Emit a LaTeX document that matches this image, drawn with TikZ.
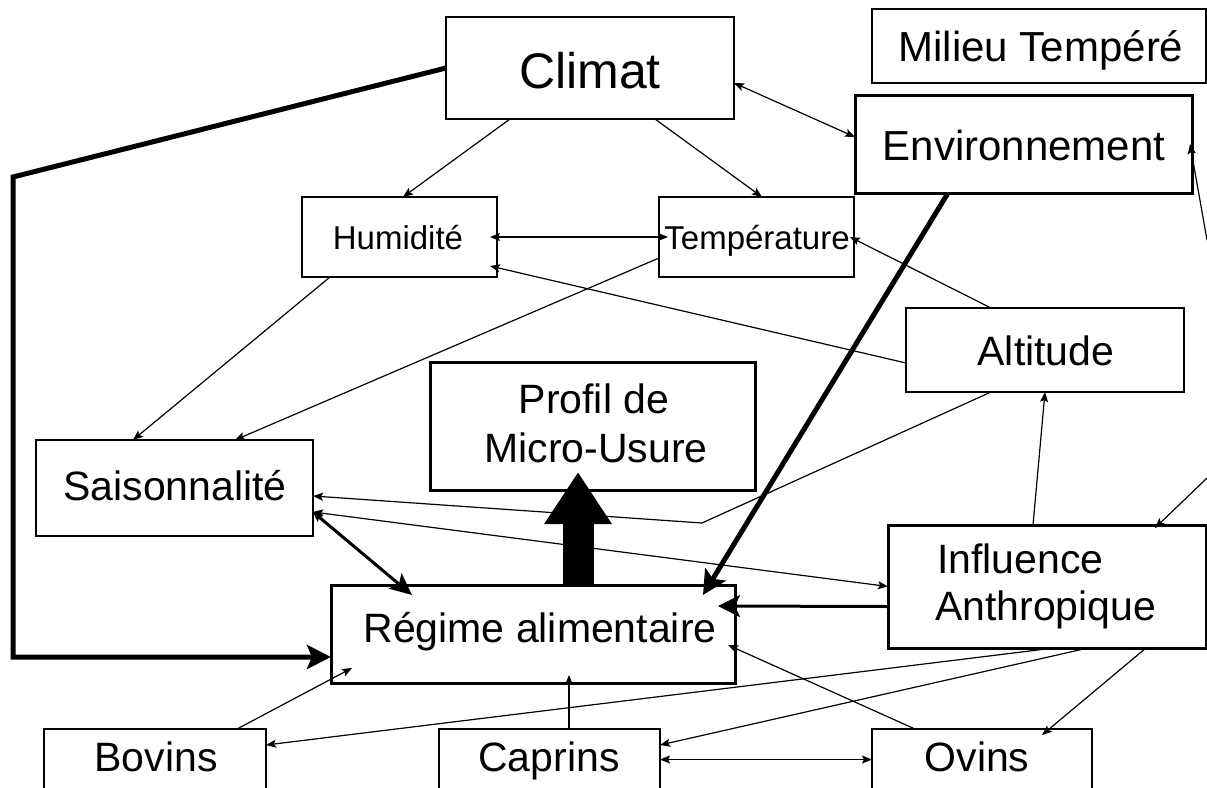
\documentclass[tikz,border=0pt]{standalone}
\usepackage{fontspec}
\setmainfont{Liberation Sans}
\usetikzlibrary{arrows.meta}
\newcommand{\fsz}[1]{\fontsize{#1}{#1}\selectfont}
\begin{document}
\begin{tikzpicture}[x=1pt,y=-1pt,
  box/.style={draw, line width=1.3pt, inner sep=0pt, outer sep=0pt, rectangle},
  thickbox/.style={box, line width=3pt},
  txt/.style={inner sep=0pt, outer sep=0pt, anchor=base},
  big/.style={txt, font=\fsz{41}},
  small/.style={txt, font=\fsz{33}},
  conn/.style={line width=1.2pt, -{Stealth[length=10pt,width=8pt,inset=2pt]}},
  biconn/.style={line width=1.2pt, {Stealth[length=10pt,width=8pt,inset=2pt]}-{Stealth[length=10pt,width=8pt,inset=2pt]}},
  heavy/.style={line width=5pt, -{Stealth[length=24pt,width=24pt,inset=5pt]}},
  medium/.style={line width=3pt, -{Stealth[length=22pt,width=22pt,inset=5pt]}},
]
\useasboundingbox (0,0) rectangle (1207,787);
\fill[white] (0,0) rectangle (1207,787);
\clip (0,0) rectangle (1207,787);

% boxes
\node[box, line width=2pt, minimum width=288pt, minimum height=102pt] (climat) at (590,68) {};
\node[box, minimum width=334pt, minimum height=74pt] (milieu) at (1039,46) {};
\node[thickbox, minimum width=337pt, minimum height=98pt] (env) at (1023.5,144) {};
\node[box, minimum width=195pt, minimum height=80pt] (hum) at (399.5,237) {};
\node[box, minimum width=195pt, minimum height=80pt] (temp) at (756.5,237) {};
\node[box, minimum width=278pt, minimum height=84pt] (alt) at (1045,350) {};
\node[thickbox, minimum width=325pt, minimum height=128pt] (profil) at (592.5,426) {};
\node[box, minimum width=277pt, minimum height=96pt] (sais) at (174.5,488) {};
\node[thickbox, minimum width=404pt, minimum height=98pt] (regime) at (533,634) {};
\node[thickbox, minimum width=318pt, minimum height=123pt] (infl) at (1047,586.5) {};
\node[box, minimum width=222pt, minimum height=61pt] (bovins) at (155,759.5) {};
\node[box, minimum width=221pt, minimum height=61pt] (caprins) at (549.5,759.5) {};
\node[box, minimum width=220pt, minimum height=61pt] (ovins) at (982,759.5) {};

% texts
\node[txt, font=\fsz{50}] (climatT) at (590,88) {Climat};
\node[big, font=\fsz{42}] (milieuT) at (1041,61) {Milieu Tempéré};
\node[big, font=\fsz{42}] (envT) at (1024,160) {Environnement};
\node[small] (humT) at (398,249) {Humidité};
\node[small] (tempT) at (757,249) {Température};
\node[big] (altT) at (1046,365) {Altitude};
\node[big] (profilA) at (594,413) {Profil de};
\node[big] (profilB) at (596,462) {Micro-Usure};
\node[big] (saisT) at (175,500) {Saisonnalité};
\node[big] (regimeT) at (540,642) {Régime alimentaire};
\node[big, anchor=base west] (inflA) at (937,573) {Influence};
\node[big, anchor=base west] (inflB) at (935,620) {Anthropique};
\node[big] (bovinsT) at (156,771) {Bovins};
\node[big] (caprinsT) at (549,771) {Caprins};
\node[big] (ovinsT) at (977,771) {Ovins};

% free ends off the picture
\coordinate (offA) at (1207,240);
\coordinate (offB) at (1207,478);
\coordinate (bendC) at (13,177);
\coordinate (bendA) at (702,523);

% connectors
\draw[heavy] (climat.west) -- (bendC) |- ([yshift=-23pt]regime.west);
\draw[conn] ([xshift=64pt]climat.south west) -- ([xshift=101pt]hum.north west);
\draw[conn] ([xshift=209pt]climat.south west) -- ([xshift=103pt]temp.north west);
\draw[biconn] ([yshift=-15pt]climat.east) -- ([yshift=7pt]env.west);
\draw[biconn] ([xshift=-7pt]hum.east) -- ([xshift=9pt]temp.west);
\draw[conn] ([xshift=85pt]alt.north west) -- ([xshift=-4pt]temp.east);
\draw[conn] ([yshift=-13pt]alt.west) -- ([xshift=-7pt,yshift=11pt]hum.south east);
\draw[conn] ([xshift=28pt]hum.south west) -- ([xshift=97pt]sais.north west);
\draw[conn] ([yshift=-21pt]temp.west) -- ([xshift=199pt]sais.north west);
\draw[heavy] ([xshift=93pt]env.south west) -- ([xshift=-32pt,yshift=-10pt]regime.north east);
\draw[conn] (offA) -- ([xshift=-2pt]env.east);
\draw[conn] (offB) -- ([xshift=-51pt,yshift=-3pt]infl.north east);
\draw[conn] ([xshift=85pt]alt.south west) -- (bendA) -- ([yshift=-8pt]sais.east);
\draw[biconn] ([yshift=-24pt]sais.east) -- (infl.west);
\draw[line width=3pt, {Stealth[length=10pt,width=9pt,inset=2pt]}-{Stealth[length=22pt,width=20pt,inset=5pt]}] ([yshift=-24pt]sais.east) -- ([xshift=81pt,yshift=-10pt]regime.north west);
\draw[medium] ([yshift=-20pt]infl.west) -- ([xshift=-17pt,yshift=28pt]regime.east);
\draw[conn] ([xshift=145pt]infl.north west) -- (alt.south);
\draw[line width=31pt, -{Triangle[length=52pt,width=64pt]}] ([xshift=45pt]regime.north) -- ([xshift=-14.5pt,yshift=18pt]profil.south);
\draw[conn] ([xshift=193pt]bovins.north west) -- ([xshift=21pt,yshift=15pt]regime.south west);
\draw[conn] ([xshift=130pt]caprins.north west) -- ([xshift=238pt,yshift=8pt]regime.south west);
\draw[conn] ([xshift=43pt]ovins.north west) -- ([xshift=-7pt,yshift=-11pt]regime.east);
\draw[conn] ([xshift=166pt]infl.south west) -- ([yshift=-16pt]bovins.north east);
\draw[conn] ([xshift=200pt]infl.south west) -- ([yshift=-16pt]caprins.north east);
\draw[conn] ([xshift=258pt]infl.south west) -- ([xshift=-50pt,yshift=-6pt]ovins.north east);
\draw[biconn] (caprins.east) -- (ovins.west);
\end{tikzpicture}
\end{document}
